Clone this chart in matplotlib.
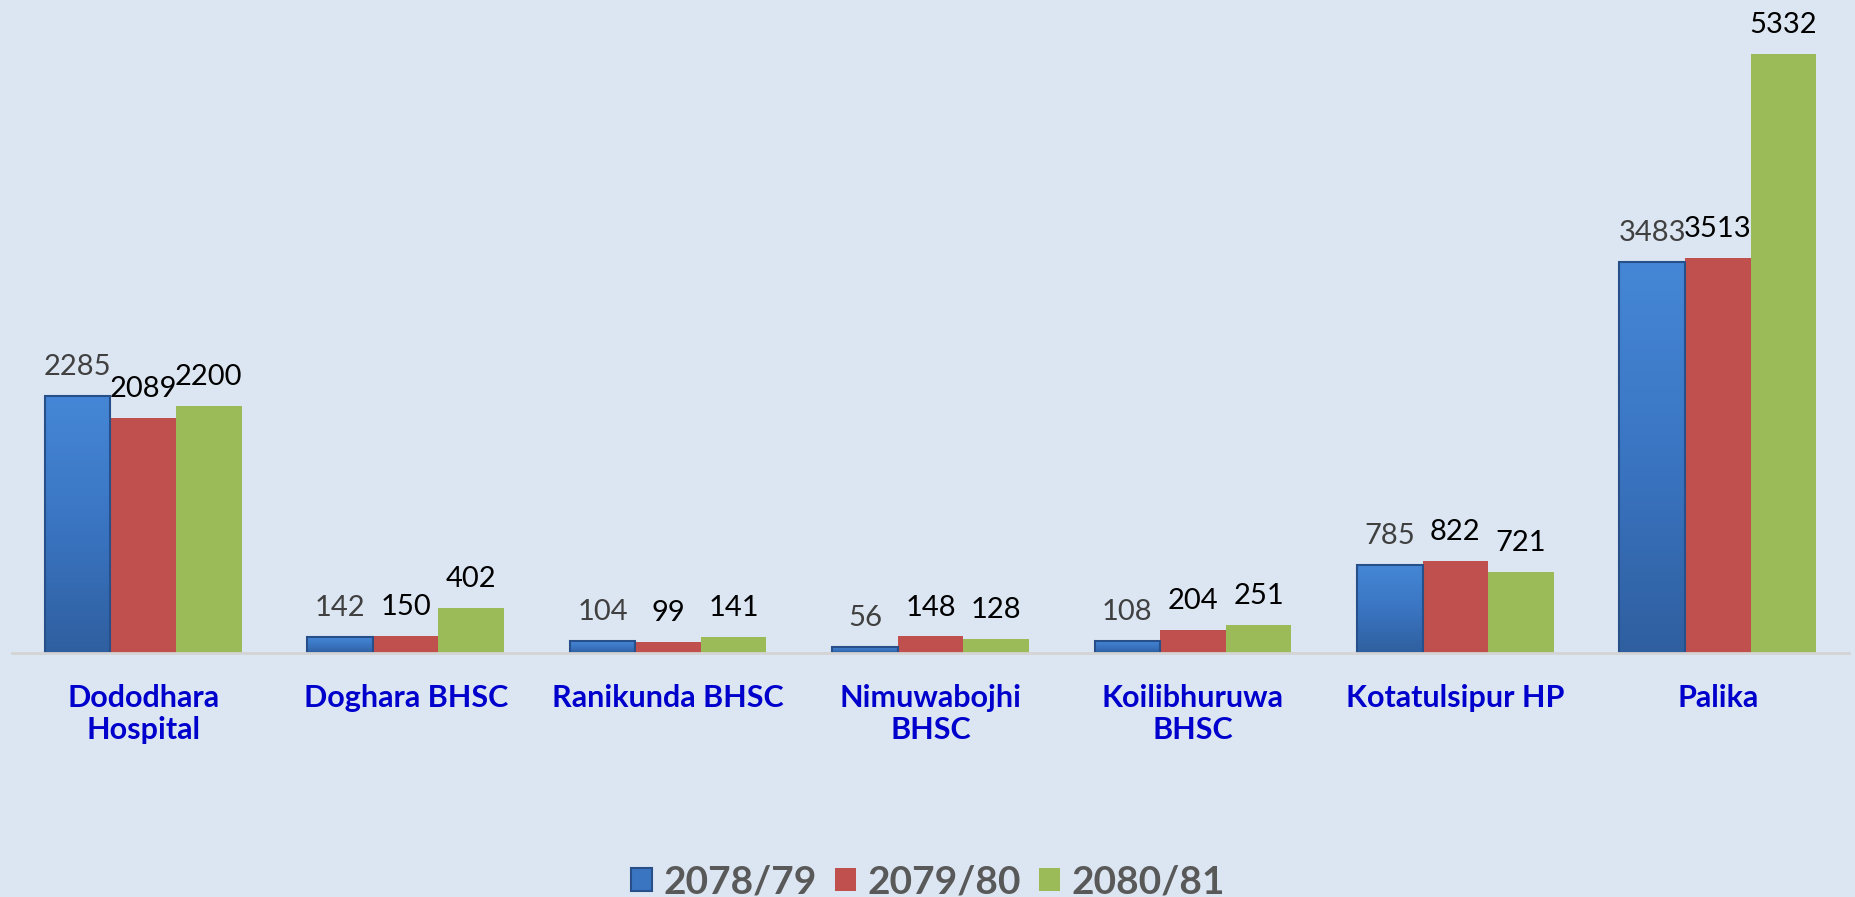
import numpy as np
import matplotlib
matplotlib.use("Agg")
import matplotlib.pyplot as plt
from matplotlib.patches import Patch
from matplotlib.colors import LinearSegmentedColormap

plt.rcParams["font.family"] = ["Lato", "DejaVu Sans"]

# ---------------------------------------------------------------------------
# data
# ---------------------------------------------------------------------------
categories = ["Dododhara\nHospital", "Doghara BHSC", "Ranikunda BHSC",
              "Nimuwabojhi\nBHSC", "Koilibhuruwa\nBHSC", "Kotatulsipur HP",
              "Palika"]
series_names = ["2078/79", "2079/80", "2080/81"]
fy_2078_79 = [2285, 142, 104, 56, 108, 785, 3483]
fy_2079_80 = [2089, 150, 99, 148, 204, 822, 3513]
fy_2080_81 = [2200, 402, 141, 128, 251, 721, 5332]

BG = "#dce6f2"
RED = "#c0504d"
GREEN = "#9bbb59"
BLUE_EDGE = "#27508a"
blue_cmap = LinearSegmentedColormap.from_list("bev", ["#2f5f9f", "#3a75c2", "#4587d6"])

fig = plt.figure(figsize=(18.56, 8.97), dpi=100, facecolor=BG)
ax = fig.add_axes([12 / 1856, 0.272, 1837 / 1856, 0.728])
ax.set_facecolor(BG)

x = np.arange(len(categories))
w = 0.25

b_blue = ax.bar(x - w, fy_2078_79, w, color="#3a75c2", edgecolor=BLUE_EDGE, linewidth=1.2, zorder=2)
b_red = ax.bar(x, fy_2079_80, w, color=RED, linewidth=0, zorder=2)
b_green = ax.bar(x + w, fy_2080_81, w, color=GREEN, linewidth=0, zorder=2)

# bevelled look for the first series: vertical gradient clipped to each bar
grad = np.linspace(0, 1, 256).reshape(-1, 1)
for rect in b_blue:
    x0, y0 = rect.get_x(), rect.get_y()
    im = ax.imshow(grad, cmap=blue_cmap, aspect="auto", origin="lower",
                   extent=(x0, x0 + rect.get_width(), y0, y0 + rect.get_height()),
                   zorder=2.1)
    im.set_clip_path(rect)
    ax.add_patch(plt.Rectangle((x0, y0), rect.get_width(), rect.get_height(),
                               fill=False, edgecolor=BLUE_EDGE, linewidth=1.5, zorder=2.2))
ax.set_xlim(-0.5, len(categories) - 0.5)
ax.set_ylim(0, 5810)

# value labels
for bars, vals, col in [(b_blue, fy_2078_79, "#404040"),
                        (b_red, fy_2079_80, "black"),
                        (b_green, fy_2080_81, "black")]:
    for rect, v in zip(bars, vals):
        ax.annotate(str(v), (rect.get_x() + rect.get_width() / 2, rect.get_height()),
                    xytext=(0, 15), textcoords="offset points",
                    ha="center", va="baseline", fontsize=21, color=col, zorder=5)

for s in ["top", "right", "left"]:
    ax.spines[s].set_visible(False)
ax.spines["bottom"].set_color("#d4d4d4")
ax.spines["bottom"].set_linewidth(2)
ax.set_yticks([])
ax.set_xticks(x)
ax.set_xticklabels(categories, fontsize=22, fontweight="bold", color="#0000cc",
                   linespacing=1.2)
ax.tick_params(axis="x", length=0, pad=22)

handles = [Patch(facecolor="#3a75c2", edgecolor=BLUE_EDGE, linewidth=1.5),
           Patch(facecolor=RED), Patch(facecolor=GREEN)]
leg = fig.legend(handles, series_names, loc="center", bbox_to_anchor=(0.5, 0.017),
                 ncol=3, frameon=False, handlelength=0.55, handleheight=0.55,
                 handletextpad=0.3, columnspacing=0.45,
                 prop={"size": 28, "weight": "bold"})
for t in leg.get_texts():
    t.set_color("#595959")

fig.savefig("out.png", dpi=100, facecolor=BG)
